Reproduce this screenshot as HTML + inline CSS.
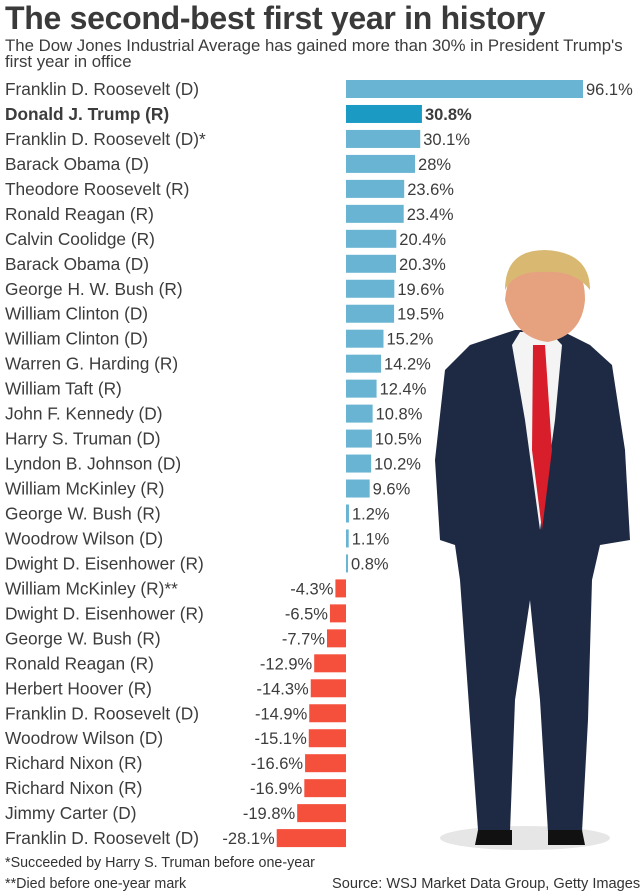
<!DOCTYPE html>
<html><head><meta charset="utf-8"><style>
body{margin:0;width:640px;height:895px;background:#fff;font-family:"Liberation Sans",sans-serif;color:#3c3c3c;overflow:hidden;position:relative}
#title{position:absolute;left:5px;top:0px;font-size:32px;font-weight:bold;color:#3a3a3a;letter-spacing:-0.3px;white-space:nowrap}
#sub{position:absolute;left:5px;top:38px;font-size:16.8px;line-height:16px;color:#3c3c3c;width:640px;white-space:nowrap}
.fn{position:absolute;font-size:14.3px;color:#333;white-space:nowrap}
</style></head><body>
<div id="title">The second-best first year in history</div>
<div id="sub">The Dow Jones Industrial Average has gained more than 30% in President Trump's<br>first year in office</div>
<svg id="chart" width="640" height="895" style="position:absolute;left:0;top:0">
<g id="photo">
<ellipse cx="525" cy="838" rx="85" ry="12" fill="#e6e6e6"/>
<path d="M515 330 L470 345 L445 370 L435 460 L440 540 L455 545 L460 580 L470 720 L478 830 L510 832 L515 700 L530 600 L540 700 L548 832 L582 832 L588 720 L592 580 L600 545 L630 540 L625 450 L612 365 L590 345 L560 330 Z" fill="#1e2a44"/>
<path d="M520 332 L550 332 L562 345 L555 420 L540 530 L525 420 L512 345 Z" fill="#f4f4f4"/>
<path d="M533 345 L545 345 L552 450 L542 530 L532 450 Z" fill="#d81e2a"/>
<path d="M505 300 Q510 250 550 255 Q585 258 585 300 Q582 335 548 342 Q515 338 505 300Z" fill="#e6a27f"/>
<path d="M505 290 Q505 250 545 250 Q590 252 590 290 Q575 270 545 272 Q515 270 505 290Z" fill="#d9b871"/>
<path d="M478 830 L512 830 L512 845 L475 845Z M548 830 L582 830 L585 845 L548 845Z" fill="#111"/>
</g>
</svg>
<div class="fn" style="left:5px;top:855px">*Succeeded by Harry S. Truman before one-year</div>
<div class="fn" style="left:5px;top:876px">**Died before one-year mark</div>
<div class="fn" style="left:332px;top:876px;font-size:14.6px">Source: WSJ Market Data Group, Getty Images</div>
<script>
const categories=["Franklin D. Roosevelt (D)","Donald J. Trump (R)","Franklin D. Roosevelt (D)*","Barack Obama (D)","Theodore Roosevelt (R)","Ronald Reagan (R)","Calvin Coolidge (R)","Barack Obama (D)","George H. W. Bush (R)","William Clinton (D)","William Clinton (D)","Warren G. Harding (R)","William Taft (R)","John F. Kennedy (D)","Harry S. Truman (D)","Lyndon B. Johnson (D)","William McKinley (R)","George W. Bush (R)","Woodrow Wilson (D)","Dwight D. Eisenhower (R)","William McKinley (R)**","Dwight D. Eisenhower (R)","George W. Bush (R)","Ronald Reagan (R)","Herbert Hoover (R)","Franklin D. Roosevelt (D)","Woodrow Wilson (D)","Richard Nixon (R)","Richard Nixon (R)","Jimmy Carter (D)","Franklin D. Roosevelt (D)"];
const values=[96.1,30.8,30.1,28,23.6,23.4,20.4,20.3,19.6,19.5,15.2,14.2,12.4,10.8,10.5,10.2,9.6,1.2,1.1,0.8,-4.3,-6.5,-7.7,-12.9,-14.3,-14.9,-15.1,-16.6,-16.9,-19.8,-28.1];
const labels=["96.1%","30.8%","30.1%","28%","23.6%","23.4%","20.4%","20.3%","19.6%","19.5%","15.2%","14.2%","12.4%","10.8%","10.5%","10.2%","9.6%","1.2%","1.1%","0.8%","-4.3%","-6.5%","-7.7%","-12.9%","-14.3%","-14.9%","-15.1%","-16.6%","-16.9%","-19.8%","-28.1%"];
const highlight=1;
const NS="http://www.w3.org/2000/svg";
const svg=document.getElementById('chart');
const photo=document.getElementById('photo');
const x=v=>346+v*2.466;
const y=i=>89+i*24.97;
categories.forEach((c,i)=>{
  const v=values[i];
  const t=document.createElementNS(NS,'text');
  
  
  t.setAttribute('x',5);t.setAttribute('y',y(i)+6);
  t.setAttribute('font-size','17.3');t.setAttribute('fill','#3c3c3c');
  if(i===highlight)t.setAttribute('font-weight','bold');
  t.textContent=c;svg.insertBefore(t,photo);
  const r=document.createElementNS(NS,'rect');
  
  
  const x0=Math.min(x(0),x(v)),w=Math.max(Math.abs(x(v)-x(0)),1.5);
  r.setAttribute('x',x0);r.setAttribute('y',y(i)-9);r.setAttribute('width',w);r.setAttribute('height',18);
  r.setAttribute('fill',i===highlight?'#1b9bc4':(v>=0?'#68b4d2':'#f5503c'));
  svg.insertBefore(r,photo);
  const l=document.createElementNS(NS,'text');
  
  
  l.setAttribute('y',y(i)+6);l.setAttribute('font-size','16.5');l.setAttribute('fill','#3c3c3c');
  if(i===highlight)l.setAttribute('font-weight','bold');
  if(v>=0){l.setAttribute('x',x(v)+3);}else{l.setAttribute('x',x(v)-2);l.setAttribute('text-anchor','end');}
  l.textContent=labels[i];svg.appendChild(l);
});
</script>
</body></html>
